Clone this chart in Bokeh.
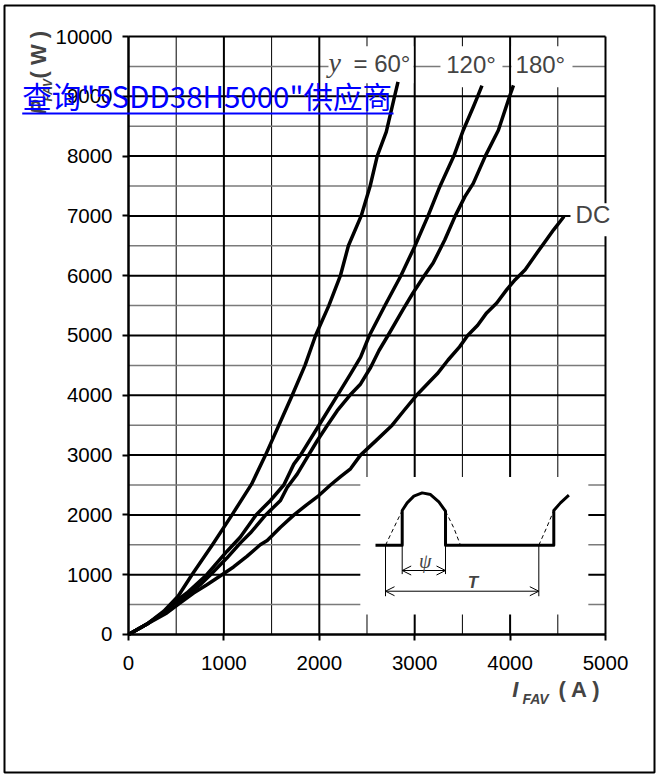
import math
from bokeh.plotting import figure
from bokeh.models import Range1d, FixedTicker, Label, BoxAnnotation, Arrow, OpenHead
from bokeh.embed import file_html
from bokeh.resources import INLINE

# ---------------- data ----------------
i_60 = [0, 190, 370, 520, 665, 880, 1085, 1290, 1436, 1576, 1716, 1850, 1961, 2100, 2221, 2305, 2439, 2533, 2607, 2702, 2789, 2825]
p_60 = [0, 170, 390, 640, 1000, 1500, 2000, 2514, 3000, 3500, 4000, 4500, 5000, 5500, 6000, 6500, 7000, 7500, 8000, 8406, 9000, 9240]

i_120 = [0, 190, 370, 472, 612, 820, 1031, 1171, 1337, 1488, 1628, 1733, 1803, 1995, 2190, 2328, 2433, 2525, 2684, 2855, 3000, 3140, 3263, 3410, 3509, 3614, 3660, 3705]
p_120 = [0, 170, 370, 528, 694, 1000, 1389, 1627, 2000, 2241, 2500, 2849, 3000, 3495, 4000, 4358, 4637, 5000, 5489, 6000, 6489, 7000, 7489, 8000, 8433, 8822, 9000, 9180]

i_180 = [0, 190, 370, 472, 612, 752, 860, 1031, 1171, 1279, 1438, 1593, 1663, 1768, 1887, 1978, 2083, 2188, 2320, 2433, 2539, 2626, 2720, 2877, 2982, 3100, 3193, 3316, 3425, 3526, 3614, 3740, 3877, 3995, 4035]
p_180 = [0, 170, 370, 510, 650, 833, 1000, 1278, 1528, 1700, 2000, 2241, 2458, 2682, 3000, 3240, 3495, 3743, 4000, 4190, 4469, 4749, 5000, 5433, 5711, 6000, 6211, 6600, 7000, 7322, 7544, 8000, 8433, 9000, 9183]

i_dc = [0, 190, 402, 542, 682, 822, 980, 1101, 1241, 1381, 1454, 1593, 1735, 1860, 1995, 2117, 2223, 2327, 2432, 2600, 2764, 2890, 3019, 3140, 3236, 3350, 3470, 3555, 3660, 3754, 3860, 3965, 4053, 4158, 4281, 4368, 4456, 4565]
p_dc = [0, 170, 361, 528, 694, 833, 1000, 1130, 1306, 1500, 1572, 1794, 2000, 2160, 2324, 2500, 2640, 2771, 3000, 3250, 3500, 3750, 4000, 4200, 4359, 4590, 4810, 5000, 5170, 5378, 5544, 5767, 5933, 6100, 6378, 6572, 6767, 6990]

x_major = [0, 1000, 2000, 3000, 4000, 5000]
x_minor = [500, 1500, 2500, 3500, 4500]
y_major = [0, 1000, 2000, 3000, 4000, 5000, 6000, 7000, 8000, 9000, 10000]
y_minor = [500, 1500, 2500, 3500, 4500, 5500, 6500, 7500, 8500, 9500]

curve_labels = ["= 60°", "120°", "180°", "DC"]

# inset schematic (waveform sketch) in chart units
wave_i = [2589, 2869, 2869, 2921, 2991, 3078, 3166, 3253, 3323, 3323, 4458, 4458, 4528, 4616]
wave_p = [1493, 1493, 2074, 2201, 2313, 2368, 2341, 2217, 2062, 1493, 1493, 2074, 2201, 2329]
dash1_i = [2694, 2781, 2869]
dash1_p = [1493, 1783, 2074]
dash2_i = [3323, 3410, 3480]
dash2_p = [2062, 1783, 1493]
dash3_i = [4301, 4382, 4458]
dash3_p = [1493, 1783, 2074]

X0, X1, Y0, Y1 = 0, 5000, 0, 10000

# ---------------- figure ----------------
# the frame spans the whole page box; the chart area (0..5000 x 0..10000) sits inside it
p = figure(x_range=Range1d(-1299.79, 5513.63), y_range=Range1d(-2307.7, 10518.4),
           width=658, height=777,
           min_border_left=4, min_border_right=4, min_border_top=5, min_border_bottom=5,
           output_backend="svg", toolbar_location=None,
           background_fill_color="white", border_fill_color="white")
p.grid.visible = False
p.outline_line_color = "black"
p.outline_line_width = 2

p.xaxis.fixed_location = 0
p.yaxis.fixed_location = 0
p.xaxis.bounds = (X0, X1)
p.yaxis.bounds = (Y0, Y1)
p.xaxis.ticker = FixedTicker(ticks=x_major)
p.yaxis.ticker = FixedTicker(ticks=y_major)
for ax in (p.xaxis[0], p.yaxis[0]):
    ax.axis_line_color = "black"
    ax.axis_line_width = 2
    ax.major_tick_line_color = "black"
    ax.major_tick_line_width = 2
    ax.major_tick_out = 6
    ax.major_tick_in = 0
    ax.minor_tick_line_color = None
    ax.major_label_text_font = "Liberation Sans"
    ax.major_label_text_font_size = "20.5px"
    ax.major_label_text_color = "black"
p.xaxis.major_label_standoff = 16
p.yaxis.major_label_standoff = 10

# grid
p.segment(x0=x_minor, y0=[Y0] * len(x_minor), x1=x_minor, y1=[Y1] * len(x_minor),
          line_color="black", line_width=1)
p.segment(x0=[X0] * len(y_minor), y0=y_minor, x1=[X1] * len(y_minor), y1=y_minor,
          line_color="#7a7a7a", line_width=1.5)
p.segment(x0=x_major, y0=[Y0] * len(x_major), x1=x_major, y1=[Y1] * len(x_major),
          line_color="black", line_width=2)
p.segment(x0=[X0] * len(y_major), y0=y_major, x1=[X1] * len(y_major), y1=y_major,
          line_color="black", line_width=2)

# white areas hiding the grid (inset panel and label backgrounds)
wb_left = [2430, 2096, 3270, 4015, 4633]
wb_right = [4820, 2987, 3920, 4654, 5073]
wb_bottom = [334, 9219, 9152, 9152, 6660]
wb_top = [2635, 9838, 9838, 9838, 7213]
p.quad(left=wb_left, right=wb_right, bottom=wb_bottom, top=wb_top,
       fill_color="white", line_color=None)

# curves
for xs, ys in ((i_60, p_60), (i_120, p_120), (i_180, p_180), (i_dc, p_dc)):
    p.line(xs, ys, line_color="black", line_width=3.5, line_join="round")

# inset drawing
p.line(wave_i, wave_p, line_color="black", line_width=3, line_join="round")
for xs, ys in ((dash1_i, dash1_p), (dash2_i, dash2_p), (dash3_i, dash3_p)):
    p.line(xs, ys, line_color="black", line_width=1, line_dash="4 3")
p.segment(x0=[2869, 3323, 2694, 4301], y0=[1493, 1493, 1493, 1493],
          x1=[2869, 3323, 2694, 4301], y1=[1010, 1010, 640, 640],
          line_color="black", line_width=1)
for xa, xb, yy in ((2869, 3323, 1070), (2694, 4301, 724)):
    p.add_layout(Arrow(start=OpenHead(size=9, line_width=1), end=OpenHead(size=9, line_width=1),
                       x_start=xa, y_start=yy, x_end=xb, y_end=yy, line_width=1))

def lab(x, y, text, font="Liberation Sans", **kw):
    p.add_layout(Label(x=x, y=y, text=text, text_font=font, text_baseline="middle", **kw))

lab(3110, 1237, "ψ", font="Liberation Serif", text_font_style="italic", text_font_size="20px",
    text_align="center")
lab(3611, 875, "T", text_font_style="bold italic", text_font_size="17px", text_align="center")

# curve labels
lab(2096, 9573, "y", font="Liberation Serif", text_font_style="italic", text_font_size="28px")
label_pos = [(2358, 9552), (3330, 9535), (4057, 9535), (4686, 7022)]
for (lx, ly), txt in zip(label_pos, curve_labels):
    lab(lx, ly, txt, text_font_size="24px")

# x axis title: I_FAV ( A )
lab(4022, -928, "I", text_font_style="bold italic", text_font_size="22px")
lab(4130, -1074, "FAV", text_font_style="bold italic", text_font_size="14px")
lab(4507, -928, "( A )", text_font_style="bold", text_font_size="22px")

# y axis title: P_FAV ( W ), rotated
lab(-943, 8696, "P", text_font_style="bold italic", text_font_size="22px", angle=math.pi / 2)
lab(-847, 8914, "FAV", text_font_style="bold italic", text_font_size="12px", angle=math.pi / 2)
lab(-943, 9297, "( W )", text_font_style="bold", text_font_size="22px", angle=math.pi / 2)

# blue link text overlay
lab(-1114, 9022, '查询"5SDD38H5000"供应商', font="Noto Sans CJK SC", text_font_size="29.5px",
    text_color="#0000ff")
p.add_layout(BoxAnnotation(left=-1114, right=2778, bottom=8696, top=8729,
                           fill_color="#0000ff", fill_alpha=1, line_alpha=0, level="overlay"))

open("out.html", "w").write(file_html(p, INLINE))
